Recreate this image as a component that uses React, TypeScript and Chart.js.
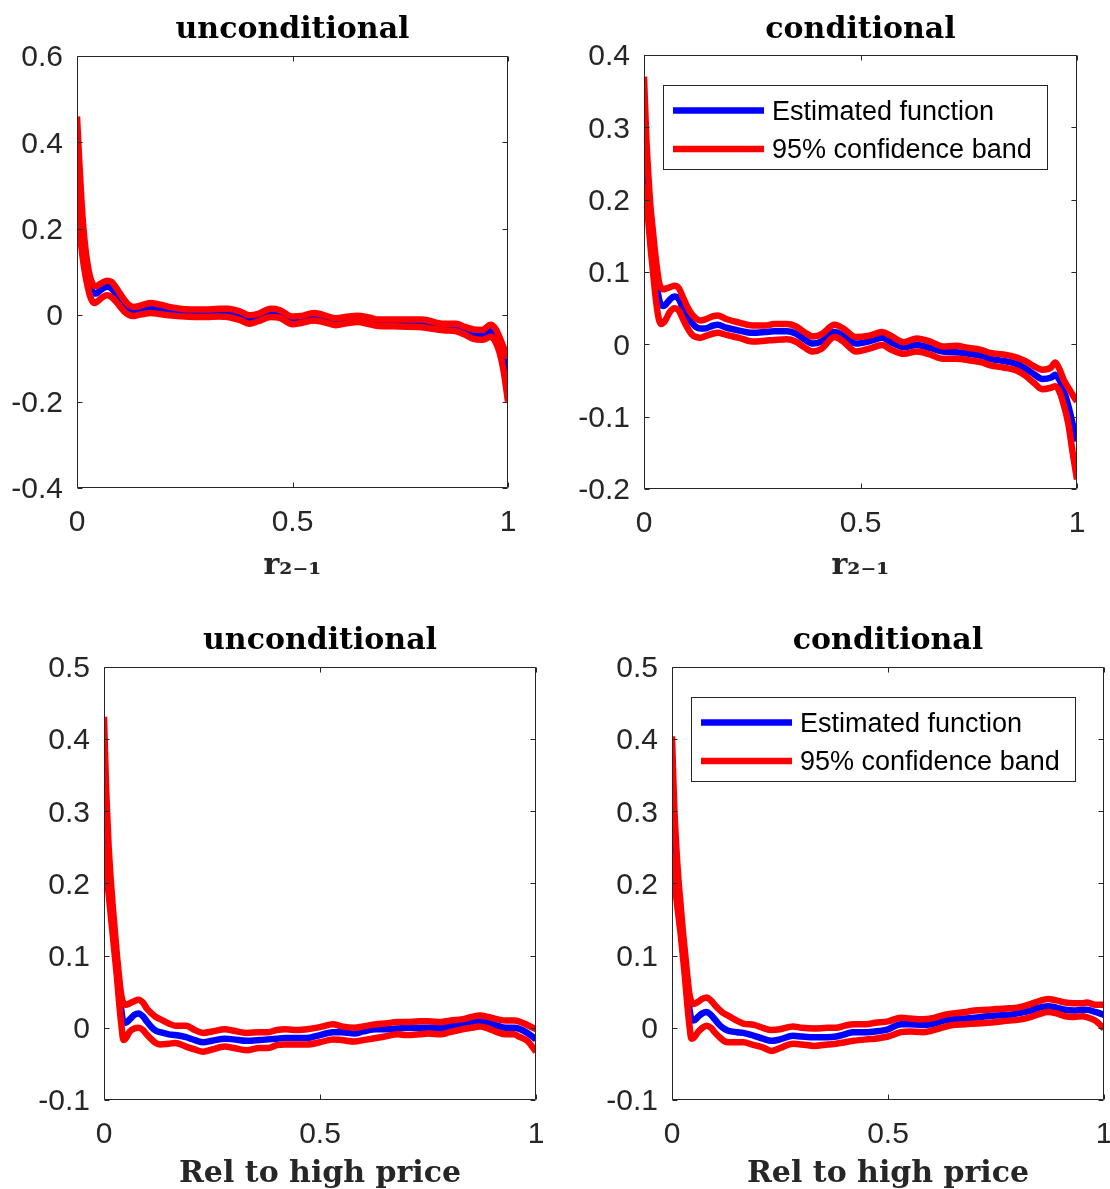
import React, { useEffect, useRef } from "react";
import { Chart, registerables } from "chart.js";

Chart.register(...registerables);

// ---------- data ----------
const X_TICKS = [0, 0.5, 1];
const LEGEND_LABELS = ["Estimated function", "95% confidence band"];
const TITLES = ["unconditional", "conditional"];
const X_LABEL_R21 = "r\u2082\u208B\u2081";
const X_LABEL_HIGH = "Rel to high price";

// panel 1: unconditional, r_{2-1}
const X1 = [0, 0.005, 0.01, 0.015, 0.02, 0.025, 0.03, 0.035, 0.04, 0.045, 0.05, 0.06, 0.07, 0.08, 0.09, 0.1, 0.11, 0.12, 0.13, 0.14, 0.16, 0.17, 0.19, 0.22, 0.25, 0.28, 0.3, 0.33, 0.35, 0.38, 0.4, 0.42, 0.45, 0.47, 0.5, 0.52, 0.55, 0.58, 0.6, 0.63, 0.65, 0.68, 0.7, 0.75, 0.8, 0.85, 0.88, 0.9, 0.92, 0.94, 0.96, 0.97, 0.98, 0.99, 1];
const U1 = [0.46, 0.36, 0.27, 0.2, 0.15, 0.115, 0.09, 0.075, 0.068, 0.067, 0.07, 0.076, 0.08, 0.077, 0.065, 0.05, 0.035, 0.024, 0.019, 0.02, 0.026, 0.028, 0.025, 0.018, 0.014, 0.013, 0.013, 0.015, 0.015, 0.008, 0.0, 0.003, 0.015, 0.012, -0.003, -0.002, 0.005, -0.002, -0.007, -0.003, -0.001, -0.006, -0.01, -0.01, -0.01, -0.02, -0.02, -0.027, -0.033, -0.034, -0.022, -0.03, -0.05, -0.075, -0.1];
const B1 = [0.38, 0.3, 0.23, 0.17, 0.13, 0.095, 0.072, 0.057, 0.05, 0.05, 0.054, 0.062, 0.066, 0.062, 0.05, 0.036, 0.023, 0.014, 0.009, 0.01, 0.015, 0.016, 0.013, 0.009, 0.006, 0.005, 0.005, 0.006, 0.005, -0.002, -0.009, -0.005, 0.006, 0.003, -0.012, -0.01, -0.004, -0.01, -0.015, -0.011, -0.008, -0.013, -0.017, -0.018, -0.019, -0.027, -0.028, -0.036, -0.043, -0.045, -0.037, -0.045, -0.065, -0.1, -0.15];
const L1 = [0.3, 0.22, 0.16, 0.12, 0.09, 0.065, 0.045, 0.033, 0.028, 0.03, 0.034, 0.042, 0.046, 0.042, 0.032, 0.02, 0.008, 0.001, -0.002, 0.0, 0.004, 0.005, 0.003, -0.001, -0.003, -0.004, -0.004, -0.003, -0.004, -0.012, -0.02, -0.014, -0.004, -0.006, -0.021, -0.018, -0.012, -0.018, -0.023, -0.018, -0.016, -0.021, -0.025, -0.026, -0.028, -0.035, -0.037, -0.045, -0.055, -0.057, -0.05, -0.06, -0.085, -0.13, -0.2];
const Y_TICKS_1 = [-0.4, -0.2, 0, 0.2, 0.4, 0.6];

// panel 2: conditional, r_{2-1}
const X2 = [0, 0.005, 0.01, 0.015, 0.02, 0.025, 0.03, 0.035, 0.04, 0.045, 0.05, 0.06, 0.07, 0.08, 0.09, 0.1, 0.11, 0.12, 0.13, 0.14, 0.16, 0.17, 0.19, 0.22, 0.25, 0.28, 0.3, 0.33, 0.35, 0.37, 0.39, 0.41, 0.44, 0.46, 0.49, 0.52, 0.55, 0.57, 0.6, 0.63, 0.66, 0.69, 0.72, 0.75, 0.78, 0.8, 0.83, 0.86, 0.88, 0.9, 0.92, 0.94, 0.95, 0.96, 0.97, 0.98, 0.99, 1];
const U2 = [0.37, 0.29, 0.235, 0.19, 0.16, 0.13, 0.105, 0.085, 0.078, 0.076, 0.077, 0.079, 0.081, 0.078, 0.065, 0.052, 0.042, 0.036, 0.033, 0.034, 0.039, 0.04, 0.035, 0.03, 0.026, 0.026, 0.028, 0.028, 0.025, 0.017, 0.011, 0.014, 0.027, 0.022, 0.01, 0.012, 0.017, 0.012, 0.003, 0.008, 0.004, -0.003, -0.002, -0.005, -0.008, -0.012, -0.014, -0.018, -0.023, -0.03, -0.035, -0.032, -0.025, -0.035, -0.05, -0.06, -0.07, -0.079];
const B2 = [0.297, 0.245, 0.2, 0.165, 0.135, 0.105, 0.08, 0.062, 0.054, 0.053, 0.055, 0.062, 0.066, 0.063, 0.05, 0.038, 0.03, 0.024, 0.022, 0.022, 0.026, 0.027, 0.023, 0.019, 0.016, 0.017, 0.018, 0.018, 0.015, 0.007, 0.001, 0.004, 0.017, 0.012, 0.001, 0.004, 0.009, 0.003, -0.004, -0.001, -0.005, -0.01, -0.011, -0.013, -0.016, -0.02, -0.023, -0.027, -0.033, -0.041, -0.048, -0.046, -0.042, -0.05, -0.065, -0.085, -0.11, -0.134];
const L2 = [0.221, 0.2, 0.17, 0.135, 0.105, 0.075, 0.05, 0.033, 0.028, 0.03, 0.034, 0.045, 0.05, 0.047, 0.035, 0.023, 0.014, 0.01, 0.009, 0.011, 0.015, 0.016, 0.013, 0.009, 0.004, 0.005, 0.006, 0.007, 0.004, -0.004, -0.01, -0.006, 0.01, 0.004, -0.01, -0.006, -0.001, -0.007, -0.013, -0.01, -0.014, -0.02, -0.02, -0.022, -0.025, -0.029, -0.032, -0.036, -0.043, -0.053, -0.062, -0.06, -0.058, -0.066, -0.085, -0.11, -0.15, -0.187];
const Y_TICKS_2 = [-0.2, -0.1, 0, 0.1, 0.2, 0.3, 0.4];

// panels 3 and 4: relative to high price
const X3 = [0, 0.005, 0.01, 0.015, 0.02, 0.025, 0.03, 0.035, 0.04, 0.045, 0.05, 0.06, 0.07, 0.08, 0.09, 0.1, 0.11, 0.12, 0.13, 0.15, 0.165, 0.19, 0.21, 0.23, 0.25, 0.28, 0.3, 0.33, 0.36, 0.38, 0.4, 0.42, 0.45, 0.47, 0.5, 0.53, 0.55, 0.58, 0.6, 0.63, 0.65, 0.68, 0.7, 0.73, 0.75, 0.78, 0.8, 0.83, 0.85, 0.87, 0.89, 0.91, 0.93, 0.95, 0.96, 0.98, 1];
const U3 = [0.431, 0.33, 0.26, 0.21, 0.17, 0.135, 0.1, 0.07, 0.045, 0.034, 0.032, 0.034, 0.037, 0.039, 0.035, 0.026, 0.02, 0.015, 0.012, 0.006, 0.003, 0.003, -0.003, -0.007, -0.005, -0.002, -0.004, -0.007, -0.006, -0.006, -0.003, -0.002, -0.003, -0.002, 0.001, 0.005, 0.002, 0, 0.002, 0.005, 0.006, 0.008, 0.008, 0.009, 0.009, 0.008, 0.01, 0.012, 0.015, 0.017, 0.015, 0.012, 0.01, 0.01, 0.009, 0.004, -0.002];
const B3 = [0.342, 0.28, 0.235, 0.195, 0.155, 0.12, 0.085, 0.052, 0.025, 0.008, 0.007, 0.012, 0.018, 0.02, 0.016, 0.008, 0.001, -0.004, -0.006, -0.009, -0.01, -0.013, -0.017, -0.02, -0.018, -0.015, -0.016, -0.018, -0.017, -0.016, -0.015, -0.014, -0.014, -0.014, -0.01, -0.006, -0.006, -0.008, -0.005, -0.002, -0.002, -0.001, 0, 0, 0, 0, 0.002, 0.005, 0.007, 0.009, 0.007, 0.003, 0, 0, -0.001, -0.007, -0.016];
const L3 = [0.254, 0.22, 0.19, 0.16, 0.13, 0.1, 0.07, 0.035, 0.005, -0.017, -0.015, -0.005, -0.001, 0, -0.003, -0.01, -0.016, -0.021, -0.023, -0.022, -0.021, -0.026, -0.03, -0.033, -0.03, -0.026, -0.028, -0.031, -0.028, -0.028, -0.024, -0.023, -0.023, -0.023, -0.02, -0.016, -0.017, -0.019, -0.017, -0.014, -0.012, -0.009, -0.01, -0.009, -0.008, -0.009, -0.006, -0.002, 0, 0.002, -0.001, -0.006, -0.009, -0.009, -0.012, -0.018, -0.033];
const U4 = [0.404, 0.31, 0.25, 0.205, 0.17, 0.135, 0.105, 0.075, 0.048, 0.036, 0.033, 0.036, 0.04, 0.042, 0.038, 0.031, 0.025, 0.02, 0.017, 0.01, 0.006, 0.004, 0, -0.003, -0.002, 0.002, 0, -0.001, 0, 0, 0.003, 0.005, 0.005, 0.007, 0.009, 0.014, 0.013, 0.012, 0.013, 0.018, 0.02, 0.022, 0.024, 0.025, 0.026, 0.027, 0.028, 0.033, 0.037, 0.04, 0.038, 0.035, 0.034, 0.034, 0.035, 0.032, 0.032];
const B4 = [0.323, 0.27, 0.225, 0.19, 0.155, 0.12, 0.088, 0.055, 0.028, 0.012, 0.01, 0.015, 0.02, 0.022, 0.018, 0.011, 0.004, -0.001, -0.004, -0.006, -0.007, -0.011, -0.015, -0.018, -0.016, -0.011, -0.012, -0.013, -0.013, -0.012, -0.009, -0.006, -0.006, -0.005, -0.002, 0.005, 0.005, 0.004, 0.005, 0.01, 0.012, 0.013, 0.014, 0.016, 0.017, 0.018, 0.02, 0.024, 0.028, 0.03, 0.028, 0.025, 0.024, 0.025, 0.025, 0.022, 0.018];
const L4 = [0.242, 0.21, 0.18, 0.155, 0.13, 0.1, 0.07, 0.035, 0.005, -0.015, -0.014, -0.006, 0, 0.003, 0, -0.007, -0.013, -0.018, -0.02, -0.02, -0.02, -0.024, -0.027, -0.032, -0.028, -0.022, -0.023, -0.025, -0.023, -0.022, -0.02, -0.018, -0.016, -0.015, -0.012, -0.006, -0.005, -0.006, -0.004, 0.001, 0.004, 0.005, 0.006, 0.007, 0.008, 0.01, 0.011, 0.015, 0.019, 0.022, 0.02, 0.016, 0.015, 0.016, 0.015, 0.01, -0.001];
const Y_TICKS_HIGH = [-0.1, 0, 0.1, 0.2, 0.3, 0.4, 0.5];

// ---------- styling ----------
const BLUE = "#0000ff";
const RED = "#ff0000";
const AXIS = "#262626";
const LINE_W = 6.5;
const SANS = '"Liberation Sans", Arial, Helvetica, sans-serif';
const SERIF = '"DejaVu Serif", serif';

type Panel = {
  title: string;
  xLabel: string;
  xs: number[];
  est: number[];
  upper: number[];
  lower: number[];
  yMin: number;
  yMax: number;
  yTicks: number[];
  legend: boolean;
  canvas: { left: number; top: number; w: number; h: number };
  area: { left: number; top: number; right: number; bottom: number };
  titlePadTop: number;
  xLabelPadBottom: number;
};

const PANELS: Panel[] = [
  {
    title: TITLES[0], xLabel: X_LABEL_R21, xs: X1, est: B1, upper: U1, lower: L1,
    yMin: -0.4, yMax: 0.6, yTicks: Y_TICKS_1, legend: false,
    canvas: { left: 0, top: 0, w: 555, h: 600 },
    area: { left: 77, top: 56, right: 508, bottom: 488 },
    titlePadTop: 15.5, xLabelPadBottom: 19,
  },
  {
    title: TITLES[1], xLabel: X_LABEL_R21, xs: X2, est: B2, upper: U2, lower: L2,
    yMin: -0.2, yMax: 0.4, yTicks: Y_TICKS_2, legend: true,
    canvas: { left: 555, top: 0, w: 560, h: 600 },
    area: { left: 89, top: 55, right: 522, bottom: 489 },
    titlePadTop: 15.5, xLabelPadBottom: 19,
  },
  {
    title: TITLES[0], xLabel: X_LABEL_HIGH, xs: X3, est: B3, upper: U3, lower: L3,
    yMin: -0.1, yMax: 0.5, yTicks: Y_TICKS_HIGH, legend: false,
    canvas: { left: 0, top: 600, w: 566, h: 589 },
    area: { left: 104, top: 67, right: 536, bottom: 500 },
    titlePadTop: 26.5, xLabelPadBottom: 0,
  },
  {
    title: TITLES[1], xLabel: X_LABEL_HIGH, xs: X3, est: B4, upper: U4, lower: L4,
    yMin: -0.1, yMax: 0.5, yTicks: Y_TICKS_HIGH, legend: true,
    canvas: { left: 555, top: 600, w: 580, h: 589 },
    area: { left: 117, top: 67, right: 549, bottom: 500 },
    titlePadTop: 26.5, xLabelPadBottom: 0,
  },
];

function fmtTick(v: number): string {
  if (Math.abs(v) < 1e-9) return "0";
  return String(Math.round(v * 10) / 10);
}

function pts(xs: number[], ys: number[]) {
  return xs.map((x, i) => ({ x, y: ys[i] }));
}

const framePlugin = {
  id: "matlabFrame",
  afterDatasetsDraw(chart: any) {
    const { ctx, chartArea: a, scales } = chart;
    const xS = scales.x;
    const yS = scales.y;
    const L = Math.round(a.left) + 0.5;
    const R = Math.round(a.right) - 0.5;
    const T = Math.round(a.top) + 0.5;
    const B = Math.round(a.bottom) - 0.5;
    const tl = 5;
    ctx.save();
    ctx.strokeStyle = AXIS;
    ctx.lineWidth = 1;
    ctx.beginPath();
    ctx.rect(L, T, R - L, B - T);
    for (const t of xS.ticks) {
      const px = Math.round(xS.getPixelForValue(t.value)) + 0.5;
      ctx.moveTo(px, B);
      ctx.lineTo(px, B - tl);
      ctx.moveTo(px, T);
      ctx.lineTo(px, T + tl);
    }
    for (const t of yS.ticks) {
      const py = Math.round(yS.getPixelForValue(t.value)) + 0.5;
      ctx.moveTo(L, py);
      ctx.lineTo(L + tl, py);
      ctx.moveTo(R, py);
      ctx.lineTo(R - tl, py);
    }
    ctx.stroke();
    ctx.restore();
  },
};

const legendPlugin = {
  id: "matlabLegend",
  afterDraw(chart: any) {
    const opts = chart.options.plugins.matlabLegend;
    if (!opts || !opts.show) return;
    const { ctx, chartArea: a } = chart;
    const bx = Math.round(a.left) + 19;
    const by = Math.round(a.top) + 30;
    const bw = 384;
    const bh = 84;
    ctx.save();
    ctx.fillStyle = "#ffffff";
    ctx.fillRect(bx, by, bw, bh);
    ctx.strokeStyle = AXIS;
    ctx.lineWidth = 1;
    ctx.strokeRect(bx + 0.5, by + 0.5, bw, bh);
    const entries = [
      { label: LEGEND_LABELS[0], color: BLUE, ly: 25.5, ty: 27.5 },
      { label: LEGEND_LABELS[1], color: RED, ly: 64, ty: 66 },
    ];
    ctx.font = `27px ${SANS}`;
    ctx.textBaseline = "middle";
    ctx.textAlign = "left";
    for (const e of entries) {
      ctx.strokeStyle = e.color;
      ctx.lineWidth = LINE_W;
      ctx.lineCap = "butt";
      ctx.beginPath();
      ctx.moveTo(bx + 10, by + e.ly);
      ctx.lineTo(bx + 101, by + e.ly);
      ctx.stroke();
      ctx.fillStyle = "#000000";
      ctx.fillText(e.label, bx + 109, by + e.ty);
    }
    ctx.restore();
  },
};

function buildConfig(p: Panel): any {
  const lineDs = (label: string, ys: number[], color: string) => ({
    label,
    data: pts(p.xs, ys),
    borderColor: color,
    backgroundColor: color,
    borderWidth: LINE_W,
    pointRadius: 0,
    pointHoverRadius: 0,
    fill: false,
    cubicInterpolationMode: "monotone",
    borderJoinStyle: "round",
    borderCapStyle: "butt",
  });
  const titleFont = { family: SERIF, size: 30, weight: "bold", lineHeight: 1 };
  const tickFont = { family: SANS, size: 30, lineHeight: 1.2 };
  return {
    type: "line",
    data: {
      datasets: [
        lineDs(LEGEND_LABELS[1], p.upper, RED),
        lineDs(LEGEND_LABELS[1] + " (lower)", p.lower, RED),
        lineDs(LEGEND_LABELS[0], p.est, BLUE),
      ],
    },
    options: {
      animation: false,
      responsive: false,
      maintainAspectRatio: false,
      devicePixelRatio: 1,
      events: [],
      layout: { padding: { left: 0, top: 0, right: p.canvas.w - p.area.right, bottom: 0 } },
      plugins: {
        legend: { display: false },
        tooltip: { enabled: false },
        title: {
          display: true,
          text: p.title,
          fullSize: false,
          color: "#000000",
          font: titleFont,
          padding: { top: p.titlePadTop, bottom: p.area.top - p.titlePadTop - 30 },
        },
        matlabLegend: { show: p.legend },
      },
      scales: {
        x: {
          type: "linear",
          min: 0,
          max: 1,
          afterBuildTicks: (s: any) => {
            s.ticks = X_TICKS.map((value) => ({ value }));
          },
          afterFit: (s: any) => {
            s.height = p.canvas.h - p.area.bottom;
          },
          grid: { display: false, drawTicks: false },
          border: { display: false },
          ticks: {
            font: tickFont,
            color: AXIS,
            padding: 17,
            maxRotation: 0,
            autoSkip: false,
            callback: (v: any) => fmtTick(Number(v)),
          },
          title: {
            display: true,
            text: p.xLabel,
            color: AXIS,
            font: titleFont,
            padding: { top: 0, bottom: p.xLabelPadBottom },
          },
        },
        y: {
          type: "linear",
          min: p.yMin,
          max: p.yMax,
          afterBuildTicks: (s: any) => {
            s.ticks = p.yTicks.map((value) => ({ value }));
          },
          afterFit: (s: any) => {
            s.width = p.area.left;
          },
          grid: { display: false, drawTicks: false },
          border: { display: false },
          ticks: {
            font: tickFont,
            color: AXIS,
            padding: 14,
            labelOffset: 2,
            autoSkip: false,
            callback: (v: any) => fmtTick(Number(v)),
          },
        },
      },
    },
    plugins: [framePlugin, legendPlugin],
  };
}

function PanelChart({ p }: { p: Panel }) {
  const ref = useRef<HTMLCanvasElement | null>(null);
  useEffect(() => {
    if (!ref.current) return;
    const chart = new Chart(ref.current, buildConfig(p));
    return () => chart.destroy();
  }, [p]);
  return (
    <canvas
      ref={ref}
      width={p.canvas.w}
      height={p.canvas.h}
      style={{
        position: "absolute",
        left: p.canvas.left,
        top: p.canvas.top,
        width: p.canvas.w,
        height: p.canvas.h,
      }}
    />
  );
}

export default function App() {
  return (
    <div
      style={{
        position: "absolute",
        left: 0,
        top: 0,
        width: 1110,
        height: 1189,
        overflow: "hidden",
        background: "#ffffff",
      }}
    >
      {PANELS.map((p, i) => (
        <PanelChart key={i} p={p} />
      ))}
    </div>
  );
}
